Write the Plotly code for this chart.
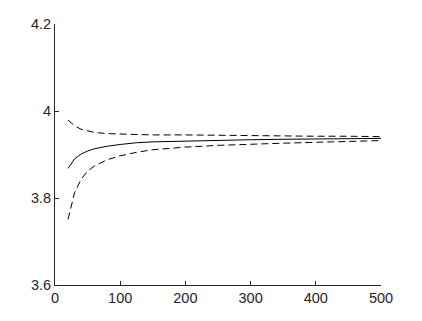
import plotly.graph_objects as go

x = [20, 30, 40, 50, 60, 80, 100, 125, 150, 200, 250, 300, 350, 400, 450, 500]
upper = [3.979, 3.966, 3.958, 3.954, 3.951, 3.948, 3.947, 3.946, 3.945, 3.945, 3.944, 3.944, 3.943, 3.942, 3.942, 3.941]
mid = [3.868, 3.890, 3.901, 3.908, 3.913, 3.919, 3.923, 3.927, 3.929, 3.931, 3.933, 3.934, 3.935, 3.936, 3.936, 3.937]
lower = [3.751, 3.812, 3.843, 3.862, 3.873, 3.888, 3.897, 3.905, 3.911, 3.917, 3.921, 3.924, 3.926, 3.928, 3.930, 3.932]

x_ticks = [0, 100, 200, 300, 400, 500]
y_ticks = [3.6, 3.8, 4.0, 4.2]
y_labels = ["3.6", "3.8", "4", "4.2"]

fig = go.Figure()
dash = "7px,4px"
fig.add_trace(go.Scatter(x=x, y=upper, mode="lines", line=dict(color="black", width=1, dash=dash)))
fig.add_trace(go.Scatter(x=x, y=mid, mode="lines", line=dict(color="black", width=1)))
fig.add_trace(go.Scatter(x=x, y=lower, mode="lines", line=dict(color="black", width=1, dash=dash)))

axis_common = dict(
    showline=True, linecolor="#262626", linewidth=1,
    ticks="inside", ticklen=4, tickcolor="#262626", tickwidth=1,
    showgrid=False, zeroline=False, mirror=False,
    tickfont=dict(family="Liberation Sans, Arial, sans-serif", size=14.5, color="#262626"),
)
fig.update_xaxes(range=[0, 500], tickvals=x_ticks, **axis_common)
fig.update_yaxes(range=[3.6, 4.2], tickvals=y_ticks, ticktext=y_labels, **axis_common)

fig.update_layout(
    width=422, height=321,
    margin=dict(l=55, r=41, t=24, b=36),
    paper_bgcolor="white", plot_bgcolor="white",
    showlegend=False,
)
fig.write_html("out.html")
